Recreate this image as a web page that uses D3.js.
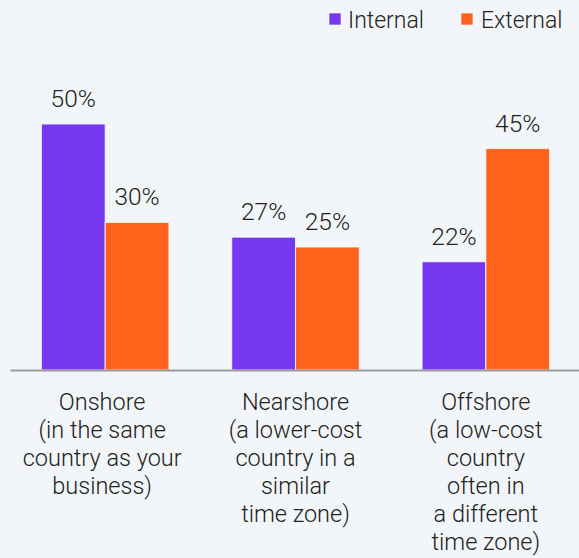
<!DOCTYPE html>
<html>
<head>
<meta charset="utf-8">
<script src="https://cdn.jsdelivr.net/npm/d3@7"></script>
<style>
  html, body { margin: 0; padding: 0; background: #f2f5f9; }
  svg { display: block; font-family: Roboto, "Liberation Sans", Arial, sans-serif; font-weight: 300; }
</style>
</head>
<body>
<svg id="chart" width="579" height="558"></svg>
<script>
// Share of work by location and delivery model
const categories = ["Onshore", "Nearshore", "Offshore"];
const categoryLines = [
  ["Onshore", "(in the same", "country as your", "business)"],
  ["Nearshore", "(a lower-cost", "country in a", "similar", "time zone)"],
  ["Offshore", "(a low-cost", "country", "often in", "a different", "time zone)"]
];
const seriesNames = ["Internal", "External"];
const internalValues = [50, 27, 22];
const externalValues = [30, 25, 45];
const seriesColors = ["#7638ef", "#ff631c"];

const width = 579, height = 558;
const baseline = 370;
const svg = d3.select("#chart");

const x0 = d3.scaleBand()
  .domain(categories)
  .range([10, 581])
  .paddingInner(0.33)
  .paddingOuter(0.165);

const x1 = d3.scaleBand()
  .domain(seriesNames)
  .range([0, x0.bandwidth()])
  .padding(0);

const y = d3.scaleLinear()
  .domain([0, 50])
  .range([baseline, 124]);

const rows = categories.map((c, i) => ({
  category: c,
  values: [
    { series: "Internal", value: internalValues[i] },
    { series: "External", value: externalValues[i] }
  ]
}));

const color = d3.scaleOrdinal().domain(seriesNames).range(seriesColors);

const groups = svg.append("g")
  .selectAll("g")
  .data(rows)
  .join("g")
  .attr("transform", d => `translate(${x0(d.category)},0)`);

groups.selectAll("rect")
  .data(d => d.values)
  .join("rect")
  .attr("x", d => x1(d.series))
  .attr("y", d => y(d.value))
  .attr("width", x1.bandwidth())
  .attr("height", d => baseline - y(d.value))
  .attr("fill", d => color(d.series))
  .attr("stroke", "#ffffff")
  .attr("stroke-opacity", 0.8)
  .attr("stroke-width", 1);

groups.selectAll("text.value")
  .data(d => d.values)
  .join("text")
  .attr("class", "value")
  .attr("x", d => x1(d.series) + x1.bandwidth() / 2)
  .attr("y", d => y(d.value) - 17)
  .attr("text-anchor", "middle")
  .attr("font-size", 24.5)
  .attr("fill", "#222")
  .text(d => d.value + "%");

// Baseline axis
const xAxis = d3.axisBottom(x0).tickSize(0).tickFormat("");
const axisG = svg.append("g")
  .attr("transform", `translate(0,${baseline})`)
  .call(xAxis);
axisG.select(".domain")
  .attr("stroke", "#9a9a9a")
  .attr("stroke-width", 2);

// Multi-line category labels
svg.append("g")
  .selectAll("text")
  .data(categories)
  .join("text")
  .attr("x", (d, i) => x0(d) + x0.bandwidth() / 2 - (i === 0 ? 3 : 0))
  .attr("y", 410)
  .attr("text-anchor", "middle")
  .attr("font-size", 23.5)
  .attr("fill", "#222")
  .selectAll("tspan")
  .data((d, i) => categoryLines[i])
  .join("tspan")
  .attr("x", function () { return d3.select(this.parentNode).attr("x"); })
  .attr("dy", (d, i) => i === 0 ? 0 : 28)
  .text(d => d);

// Legend
const legendItems = [
  { name: "Internal", box: 329, text: 348 },
  { name: "External", box: 461, text: 481 }
];
const legend = svg.append("g")
  .selectAll("g")
  .data(legendItems)
  .join("g");
legend.append("rect")
  .attr("x", d => d.box)
  .attr("y", 13)
  .attr("width", 12)
  .attr("height", 12)
  .attr("fill", d => color(d.name))
  .attr("stroke", "#fff")
  .attr("stroke-width", 0.6);
legend.append("text")
  .attr("x", d => d.text)
  .attr("y", 28)
  .attr("font-size", 23)
  .attr("fill", "#222")
  .text(d => d.name);
</script>
</body>
</html>
